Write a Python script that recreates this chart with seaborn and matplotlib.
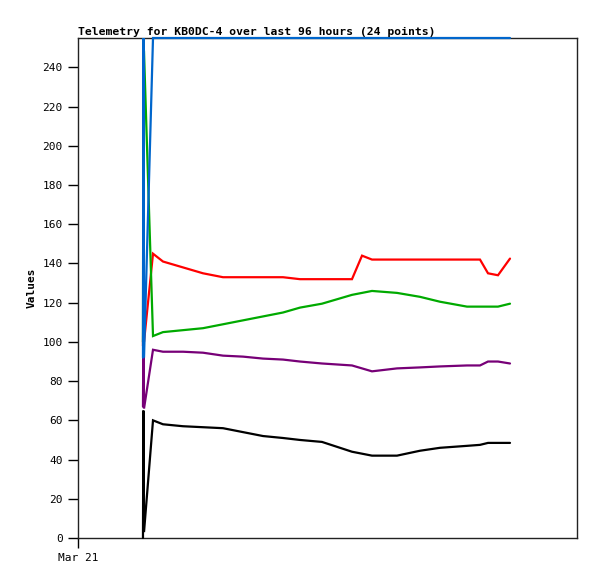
import pandas as pd
import seaborn as sns
import matplotlib.pyplot as plt

# hours since Mar 21 00:00 (x axis covers the last 96 hours)
hours = [12.50, 12.58, 12.70, 14.43, 16.35, 20.20, 24.05, 27.90, 31.74, 35.59,
         39.44, 42.71, 46.94, 52.71, 54.64, 56.56, 61.37, 65.79, 69.64, 74.84,
         77.34, 78.88, 80.80, 83.11]

ch_black = [0, 65, 3, 60, 58, 57, 56.5, 56, 54, 52, 51, 50, 49, 44, 43, 42,
            42, 44.5, 46, 47, 47.5, 48.5, 48.5, 48.5]
ch_purple = [67, 105, 66, 96, 95, 95, 94.5, 93, 92.5, 91.5, 91, 90, 89, 88,
             86.5, 85, 86.5, 87, 87.5, 88, 88, 90, 90, 89]
ch_red = [98, 120, 100, 145, 141, 138, 135, 133, 133, 133, 133, 132, 132, 132,
          144, 142, 142, 142, 142, 142, 142, 135, 134, 142.5]
ch_green = [100, 248, 248, 103, 105, 106, 107, 109, 111, 113, 115, 117.5,
            119.5, 124, 125, 126, 125, 123, 120.5, 118, 118, 118, 118, 119.5]
ch_blue = [92, 255, 92, 255, 255, 255, 255, 255, 255, 255, 255, 255, 255, 255,
           255, 255, 255, 255, 255, 255, 255, 255, 255, 255]

channels = ["black", "purple", "red", "green", "blue"]
colors = ["#000000", "#770077", "#ff0000", "#00aa00", "#0066cc"]

rows = []
for name, vals in zip(channels, [ch_black, ch_purple, ch_red, ch_green, ch_blue]):
    for h, v in zip(hours, vals):
        rows.append({"hour": h, "value": v, "channel": name})
df = pd.DataFrame(rows)

sns.set_style("white")
plt.rcParams['font.family'] = ['DejaVu Sans Mono']
plt.rcParams['text.color'] = 'black'
plt.rcParams['xtick.color'] = 'black'
plt.rcParams['ytick.color'] = 'black'
plt.rcParams['axes.labelcolor'] = 'black'

fig = plt.figure(figsize=(5.97, 5.79), dpi=100)
ax = fig.add_axes([78 / 597, 1 - 538 / 579, 499 / 597, 500 / 579])

sns.lineplot(data=df, x="hour", y="value", hue="channel", hue_order=channels,
             palette=colors, sort=False, estimator=None, linewidth=1.6,
             legend=False, ax=ax)
for line in ax.lines:
    line.set_clip_on(False)
    line.set_zorder(3)
    line.set_solid_joinstyle("miter")

ax.set_xlim(0, 96)
ax.set_ylim(0, 255)
ax.set_yticks(range(0, 241, 20))
ax.set_xticks([0])
ax.set_xticklabels(["Mar 21"])
ax.tick_params(axis="both", direction="out", length=7, width=1, color="black",
               labelsize=8, pad=4, left=True, bottom=True)
ax.set_xlabel("")
ax.set_ylabel("Values", fontsize=8, fontweight="bold", labelpad=4)
for s in ax.spines.values():
    s.set_color("#222222")
    s.set_linewidth(1)

fig.text(78 / 597, 1 - 35 / 579, "Telemetry for KB0DC-4 over last 96 hours (24 points)",
         fontsize=8.2, fontweight="bold", ha="left", va="baseline")

plt.savefig("out.png", dpi=100)
